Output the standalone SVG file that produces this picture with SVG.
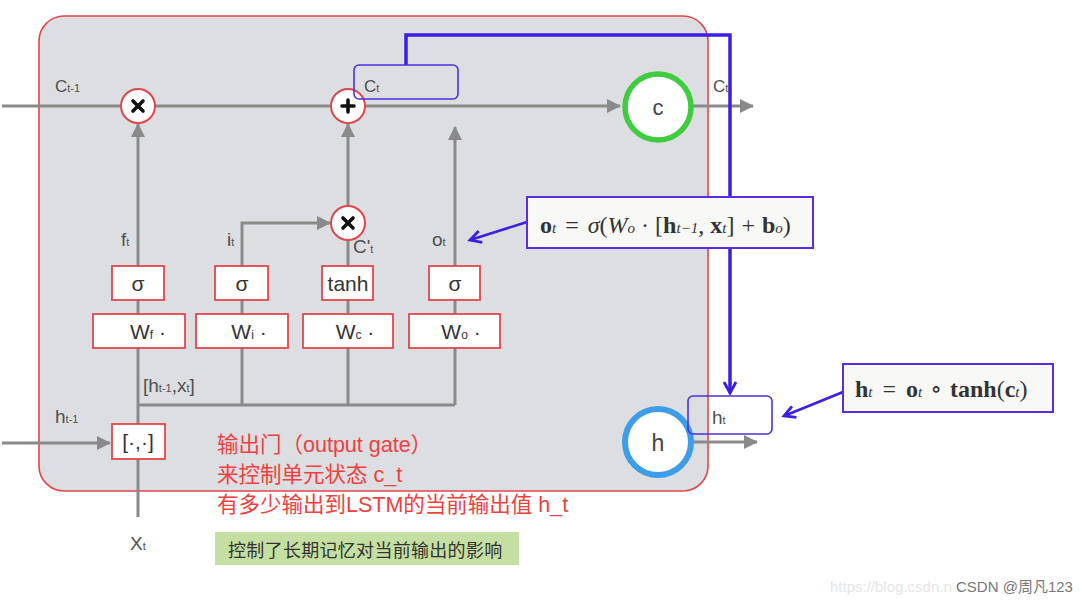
<svg xmlns="http://www.w3.org/2000/svg" width="1082" height="604" viewBox="0 0 1082 604">
<style>
.lbl{font-family:"Liberation Sans",Arial,sans-serif;fill:#505050;font-size:17px}
.sub{font-size:11px}
.gbox{fill:#fff;stroke:#e0474c;stroke-width:1.8}
.gtxt{font-family:"Liberation Sans",Arial,sans-serif;fill:#333;font-size:21px;text-anchor:middle}
.wire{fill:none;stroke:#8a8a8a;stroke-width:3}
.op{fill:#fff;stroke:#e0474c;stroke-width:2}
.sym{stroke:#111;stroke-width:3.6;stroke-linecap:round}
.blue{fill:none;stroke:#3b1fe6;stroke-width:3.5}
.barrow{fill:none;stroke:#3b1fe6;stroke-width:2.6}
.bbox{fill:none;stroke:#4a32e0;stroke-width:1.6}
.fbox{fill:#f8f8f6;stroke:#5a2de0;stroke-width:2}
.math{font-family:"Liberation Serif","DejaVu Serif",serif;fill:#333;font-size:24px}
.red{font-family:"Liberation Sans","Noto Sans CJK SC",sans-serif;fill:#f04040;font-size:21.5px}
</style>
<defs>
<marker id="ag" markerUnits="userSpaceOnUse" markerWidth="14" markerHeight="14" refX="13" refY="7" orient="auto">
<path d="M0,0 L14,7 L0,14 z" fill="#8a8a8a"/>
</marker>
<marker id="ab" markerUnits="userSpaceOnUse" markerWidth="16" markerHeight="16" refX="13" refY="8" orient="auto">
<path d="M2,2 L13,8 L2,14" fill="none" stroke="#3b1fe6" stroke-width="2.8" stroke-linejoin="miter"/>
</marker>
</defs>
<rect width="1082" height="604" fill="#fff"/>
<g id="cell">
<rect x="39" y="16" width="669" height="475" rx="25" fill="#dddee1" stroke="#e0474c" stroke-width="1.6"/>
</g>
<g id="connectors">
<line class="wire" x1="2" y1="106" x2="620" y2="106" marker-end="url(#ag)"/>
<line class="wire" x1="693" y1="106" x2="753" y2="106" marker-end="url(#ag)"/>
<line class="wire" x1="2" y1="443" x2="110" y2="443" marker-end="url(#ag)"/>
<line class="wire" x1="693" y1="442" x2="757" y2="442" marker-end="url(#ag)"/>
<line class="wire" x1="138" y1="517" x2="138" y2="124" marker-end="url(#ag)"/>
<polyline class="wire" points="242,405 242,223 330,223" marker-end="url(#ag)"/>
<line class="wire" x1="348" y1="405" x2="348" y2="240"/>
<line class="wire" x1="348" y1="206" x2="348" y2="124" marker-end="url(#ag)"/>
<line class="wire" x1="455" y1="405" x2="455" y2="127" marker-end="url(#ag)"/>
<line class="wire" x1="138" y1="405" x2="455" y2="405"/>
<polyline class="blue" points="406,65 406,35 730,35 730,393" marker-end="url(#ab)"/>
<line class="barrow" x1="527" y1="222" x2="470" y2="240" marker-end="url(#ab)"/>
<line class="barrow" x1="843" y1="392" x2="784" y2="416" marker-end="url(#ab)"/>
</g>
<g id="mul-f">
<circle class="op" cx="138" cy="106" r="17"/>
<line class="sym" x1="133" y1="101" x2="143" y2="111"/><line class="sym" x1="143" y1="101" x2="133" y2="111"/>
</g>
<g id="add-c">
<circle class="op" cx="348" cy="106" r="17"/>
<line class="sym" x1="342" y1="106" x2="354" y2="106"/><line class="sym" x1="348" y1="100" x2="348" y2="112"/>
</g>
<g id="mul-i">
<circle class="op" cx="348" cy="223" r="17"/>
<line class="sym" x1="343" y1="218" x2="353" y2="228"/><line class="sym" x1="353" y1="218" x2="343" y2="228"/>
</g>
<g id="ct-box">
<rect class="bbox" x="354" y="65" width="104" height="34" rx="5"/>
<text class="lbl" x="364" y="92">C<tspan class="sub">t</tspan></text>
</g>
<g id="c-node">
<circle cx="658" cy="107" r="33" fill="#fff" stroke="#3fcc3f" stroke-width="5.5"/>
<text x="658" y="115" font-family="Liberation Sans,Arial,sans-serif" font-size="22" fill="#444" text-anchor="middle">c</text>
</g>
<g id="h-node">
<circle cx="658" cy="442" r="33" fill="#fff" stroke="#3d9de9" stroke-width="6"/>
<text x="658" y="451" font-family="Liberation Sans,Arial,sans-serif" font-size="23" fill="#444" text-anchor="middle">h</text>
</g>
<g id="ht-box">
<rect class="bbox" x="688" y="396" width="84" height="38" rx="5"/>
<text class="lbl" x="712" y="424" style="font-size:19px">h<tspan class="sub">t</tspan></text>
</g>
<g id="sigma-f">
<rect class="gbox" x="112" y="266" width="52" height="34"/>
<text class="gtxt" x="138" y="291">σ</text>
</g>
<g id="w-f">
<rect class="gbox" x="93" y="314" width="92" height="34"/>
<text class="gtxt" x="148" y="339">W<tspan font-size="12">f</tspan> ·</text>
</g>
<g id="sigma-i">
<rect class="gbox" x="215" y="266" width="53" height="34"/>
<text class="gtxt" x="242" y="291">σ</text>
</g>
<g id="w-i">
<rect class="gbox" x="196" y="314" width="92" height="34"/>
<text class="gtxt" x="249" y="339">W<tspan font-size="12">i</tspan> ·</text>
</g>
<g id="tanh-c">
<rect class="gbox" x="322" y="266" width="51" height="34"/>
<text class="gtxt" x="348" y="291">tanh</text>
</g>
<g id="w-c">
<rect class="gbox" x="303" y="314" width="90" height="34"/>
<text class="gtxt" x="355" y="339">W<tspan font-size="12">c</tspan> ·</text>
</g>
<g id="sigma-o">
<rect class="gbox" x="429" y="266" width="51" height="34"/>
<text class="gtxt" x="455" y="291">σ</text>
</g>
<g id="w-o">
<rect class="gbox" x="409" y="314" width="91" height="34"/>
<text class="gtxt" x="461" y="339">W<tspan font-size="12">o</tspan> ·</text>
</g>
<g id="concat">
<rect class="gbox" x="112" y="424" width="53" height="35"/>
<text class="gtxt" x="138" y="449">[·,·]</text>
</g>
<g id="labels">
<text class="lbl" x="55" y="92">C<tspan class="sub">t-1</tspan></text>
<text class="lbl" x="713" y="92">C<tspan class="sub">t</tspan></text>
<text class="lbl" x="121" y="246" style="font-size:19px">f<tspan class="sub">t</tspan></text>
<text class="lbl" x="227" y="246" style="font-size:19px">i<tspan class="sub">t</tspan></text>
<text class="lbl" x="353" y="253" style="font-size:19px">C'<tspan class="sub">t</tspan></text>
<text class="lbl" x="432" y="246" style="font-size:19px">o<tspan class="sub">t</tspan></text>
<text class="lbl" x="143" y="392" style="font-size:19px">[h<tspan class="sub">t-1</tspan>,x<tspan class="sub">t</tspan>]</text>
<text class="lbl" x="55" y="423" style="font-size:19px">h<tspan class="sub">t-1</tspan></text>
<text class="lbl" x="130" y="550" style="font-size:19px">X<tspan class="sub">t</tspan></text>
</g>
<g id="formula-o">
<rect class="fbox" x="527" y="197" width="286" height="51"/>
<text class="math" x="540" y="233"><tspan font-weight="bold">o</tspan><tspan font-size="15" font-style="italic">t</tspan><tspan dx="9">=</tspan><tspan dx="9" font-style="italic">σ</tspan>(<tspan font-style="italic">W</tspan><tspan font-size="15" font-style="italic">o</tspan> · [<tspan font-weight="bold">h</tspan><tspan font-size="15" font-style="italic">t−1</tspan>, <tspan font-weight="bold">x</tspan><tspan font-size="15" font-style="italic">t</tspan>]<tspan dx="7">+</tspan><tspan dx="7" font-weight="bold">b</tspan><tspan font-size="15" font-style="italic">o</tspan>)</text>
</g>
<g id="formula-h">
<rect class="fbox" x="843" y="364" width="210" height="48"/>
<text class="math" x="855" y="397"><tspan font-weight="bold">h</tspan><tspan font-size="15" font-style="italic">t</tspan><tspan dx="10">=</tspan><tspan dx="10" font-weight="bold">o</tspan><tspan font-size="15" font-style="italic">t</tspan><tspan dx="8">∘</tspan><tspan dx="8" font-weight="bold">tanh</tspan>(<tspan font-weight="bold">c</tspan><tspan font-size="15" font-style="italic">t</tspan>)</text>
</g>
<g id="note">
<text class="red" x="217" y="452">输出门（output gate）</text>
<text class="red" x="217" y="482">来控制单元状态 c_t</text>
<text class="red" x="217" y="512">有多少输出到LSTM的当前输出值 h_t</text>
</g>
<g id="note-green">
<rect x="215" y="532" width="304" height="33" fill="#c5dfa3"/>
<text x="228" y="557" font-family="Noto Sans CJK SC,sans-serif" font-size="18" letter-spacing="0.3" fill="#333">控制了长期记忆对当前输出的影响</text>
</g>
<g id="watermark">
<text x="830" y="592" font-family="Liberation Sans,Arial,sans-serif" font-size="15" fill="#e6e6e6">https://blog.csdn.n</text>
<text x="956" y="592" font-family="Liberation Sans,Noto Sans CJK SC,sans-serif" font-size="15" fill="#777">CSDN @周凡123</text>
</g>
</svg>
